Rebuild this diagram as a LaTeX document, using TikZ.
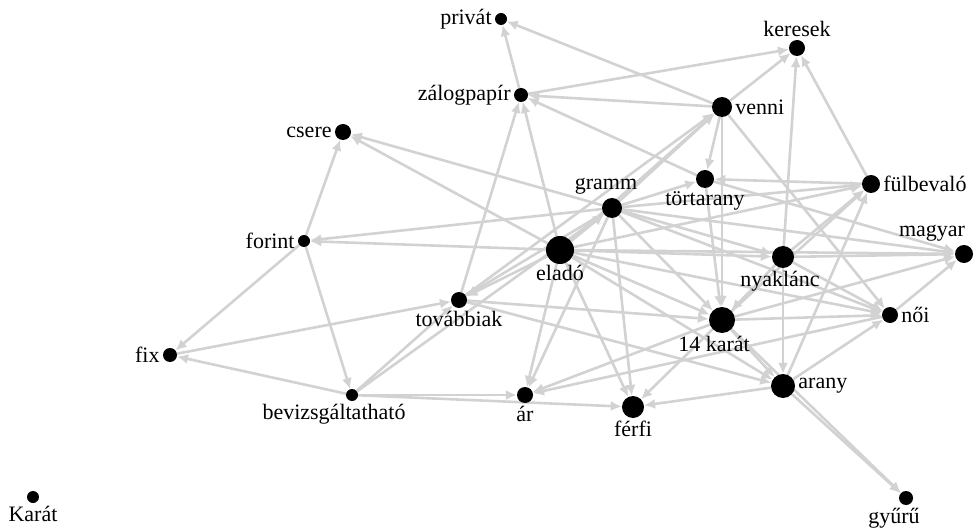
\documentclass[tikz,border=0pt]{standalone}
\usepackage{fontspec}
\setmainfont{Liberation Serif}
\usepackage{tikz}
\usepackage{xcolor}
\usetikzlibrary{arrows.meta, backgrounds}
\definecolor{linkgray}{RGB}{210, 210, 210}

\tikzset{
  dot/.style={circle, fill=black, inner sep=0pt},
  link/.style={draw=linkgray, line width=2.6pt, -{Latex[length=11pt, width=10pt]}},
  every label/.style={inner sep=2pt, text=black},
  label distance=1pt
}

\begin{document}
\begin{tikzpicture}[x=1pt, y=-1pt, font=\fontsize{22}{25}\selectfont]
                    \useasboundingbox (0,0) rectangle (974,529);
                    % words
                    \node[dot, minimum size=12pt, label=left:privát] (prv) at (501,19) {};
                    \node[dot, minimum size=16pt, label=above:keresek] (ker) at (797,48) {};
                    \node[dot, minimum size=14pt, label=left:zálogpapír] (zal) at (521,95) {};
                    \node[dot, minimum size=20pt, label=right:venni] (ven) at (722,107) {};
                    \node[dot, minimum size=16pt, label=left:csere] (csr) at (343,132) {};
                    \node[dot, minimum size=18pt, label=below:törtarany] (trt) at (705,179) {};
                    \node[dot, minimum size=18pt, label=right:fülbevaló] (ful) at (871,184) {};
                    \node[dot, minimum size=20pt, label={[xshift=-6pt]above:gramm}] (grm) at (612,208) {};
                    \node[dot, minimum size=18pt, label={[xshift=-32pt]above:magyar}] (mag) at (964,254) {};
                    \node[dot, minimum size=12pt, label=left:forint] (frn) at (304,241) {};
                    \node[dot, minimum size=28pt, label={[yshift=2pt]below:eladó}] (eld) at (560,250) {};
                    \node[dot, minimum size=22pt, label={[xshift=-3pt]below:nyaklánc}] (nyk) at (783,257) {};
                    \node[dot, minimum size=16pt, label=below:továbbiak] (tov) at (459,300) {};
                    \node[dot, minimum size=26pt, label={[xshift=-8pt]below:14 karát}] (k14) at (722,320) {};
                    \node[dot, minimum size=16pt, label=right:női] (noi) at (890,315) {};
                    \node[dot, minimum size=14pt, label=left:fix] (fix) at (170,355) {};
                    \node[dot, minimum size=24pt, label=right:arany] (arn) at (783,386) {};
                    \node[dot, minimum size=12pt, label={[xshift=-18pt]below:bevizsgáltatható}] (bev) at (352,395) {};
                    \node[dot, minimum size=16pt, label=below:ár] (ar) at (525,395) {};
                    \node[dot, minimum size=22pt, label=below:férfi] (ffi) at (633,407) {};
                    \node[dot, minimum size=12pt, label=below:Karát] (kar) at (33,497) {};
                    \node[dot, minimum size=14pt, label={[xshift=-12pt]below:gyűrű}] (gyu) at (906,498) {};
                    % links
                    \begin{pgfonlayer}{background}
                    \foreach \a/\b in {ven/prv, zal/prv, zal/ker, ven/ker, ful/ker, nyk/ker,
                        ven/zal, trt/zal, eld/zal, tov/zal, eld/ven, grm/ven, tov/ven,
                        ven/trt, grm/trt, ful/trt, eld/csr, grm/csr, frn/csr, eld/frn, grm/frn,
                        frn/fix, bev/fix, fix/tov, bev/tov, eld/tov, grm/tov, frn/bev, bev/grm,
                        bev/ar, bev/ffi, eld/ar, grm/ar, k14/ar, noi/ar,
                        eld/ffi, grm/ffi, k14/ffi, arn/ffi,
                        ven/k14, trt/k14, eld/k14, grm/k14, tov/k14, nyk/k14,
                        eld/nyk, grm/nyk, eld/grm,
                        eld/noi, grm/noi, ven/noi, k14/noi, arn/noi, nyk/noi,
                        eld/mag, grm/mag, trt/mag, k14/mag, noi/mag, nyk/mag,
                        eld/arn, tov/arn, k14/arn, nyk/arn,
                        grm/ful, eld/ful, nyk/ful, k14/ful, arn/ful,
                        arn/gyu, k14/gyu}
                        \draw[link] (\a) -- (\b);
                    \end{pgfonlayer}
                \end{tikzpicture}
\end{document}
